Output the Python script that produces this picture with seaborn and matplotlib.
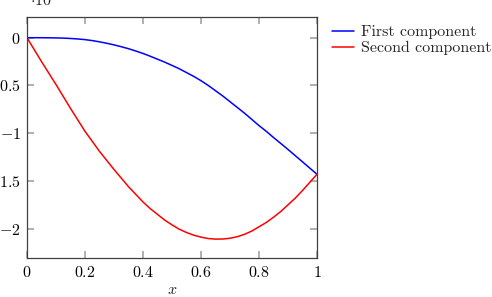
import numpy as np
import pandas as pd
import seaborn as sns
import matplotlib.pyplot as plt

# values, y in units of 1e-2
x_vals = [0.0, 0.025, 0.05, 0.075, 0.1, 0.125, 0.15, 0.175, 0.2, 0.225, 0.25,
          0.275, 0.3, 0.325, 0.35, 0.375, 0.4, 0.425, 0.45, 0.475, 0.5,
          0.525, 0.55, 0.575, 0.6, 0.625, 0.65, 0.675, 0.7, 0.725, 0.75,
          0.775, 0.8, 0.825, 0.85, 0.875, 0.9, 0.925, 0.95, 0.975, 1.0]
first_comp = [0.0, 0.0, 0.0, -0.001, -0.002, -0.004, -0.008, -0.013, -0.02, -0.03, -0.043,
              -0.058, -0.075, -0.094, -0.115, -0.139, -0.165, -0.194, -0.225, -0.256, -0.29,
              -0.325, -0.365, -0.405, -0.45, -0.50, -0.555, -0.61, -0.67, -0.73, -0.79,
              -0.855, -0.92, -0.98, -1.045, -1.107, -1.17, -1.235, -1.30, -1.365, -1.43]
second_comp = [0.0, -0.125, -0.25, -0.37, -0.49, -0.615, -0.74, -0.86, -0.98, -1.085, -1.19,
               -1.285, -1.38, -1.47, -1.56, -1.64, -1.72, -1.79, -1.85, -1.91, -1.96,
               -2.005, -2.04, -2.068, -2.088, -2.103, -2.109, -2.108, -2.10, -2.084, -2.059,
               -2.025, -1.98, -1.935, -1.88, -1.82, -1.75, -1.68, -1.60, -1.515, -1.43]
labels = ["First component", "Second component"]
y_ticks = [0, -0.5, -1, -1.5, -2]
y_ticklabels = ["$0$", "$-0.5$", "$-1$", "$-1.5$", "$-2$"]
x_ticks = [0, 0.2, 0.4, 0.6, 0.8, 1]
x_ticklabels = ["$0$", "$0.2$", "$0.4$", "$0.6$", "$0.8$", "$1$"]

df = pd.DataFrame({
    "x": x_vals * 2,
    "y": first_comp + second_comp,
    "series": [labels[0]] * len(x_vals) + [labels[1]] * len(x_vals),
})

sns.set_theme(
    style="ticks",
    rc={
        "xtick.direction": "in",
        "ytick.direction": "in",
        "xtick.top": True,
        "ytick.right": True,
        "xtick.major.size": 5,
        "ytick.major.size": 5,
        "xtick.color": "0.65",
        "ytick.color": "0.65",
        "xtick.labelcolor": "black",
        "ytick.labelcolor": "black",
        "axes.edgecolor": "0.25",
        "axes.linewidth": 0.9,
        "mathtext.fontset": "cm",
    },
)
plt.rcParams["font.family"] = ["cmr10", "DejaVu Serif"]
plt.rcParams["axes.unicode_minus"] = False

fs = 11.5
fig = plt.figure(figsize=(4.92, 2.97), dpi=100)
ax = fig.add_axes([27 / 492, 1 - 258.3 / 297, 290 / 492, 241.3 / 297])

sns.lineplot(
    data=df, x="x", y="y", hue="series",
    palette={labels[0]: "#0000ff", labels[1]: "#ff0000"},
    linewidth=1.1, ax=ax, legend=False,
)

ax.set_xlim(0, 1)
ax.set_ylim(-2.31, 0.217)
ax.set_xticks(x_ticks)
ax.set_xticklabels(x_ticklabels, fontsize=fs)
ax.set_yticks(y_ticks)
ax.set_yticklabels(y_ticklabels, fontsize=fs)
ax.tick_params(axis="x", pad=4.5)
ax.tick_params(axis="y", pad=4.5)
ax.set_xlabel("$x$", fontsize=fs, labelpad=3)
ax.set_ylabel("")
# offset label as in the original, partly cut at the top edge
ax.text(0.01, 1.035, r"$\cdot 10^{-2}$", transform=ax.transAxes,
        fontsize=fs, ha="left", va="bottom")

handles = [plt.Line2D([], [], color="#0000ff", lw=1.1),
           plt.Line2D([], [], color="#ff0000", lw=1.1)]
fig.legend(handles, labels, loc="upper left", bbox_to_anchor=(332 / 492, 1 - 25 / 297),
           frameon=False, fontsize=fs, handlelength=1.35, handletextpad=0.45,
           labelspacing=0.12, borderaxespad=0, borderpad=0)

fig.savefig("out.png", dpi=100)
